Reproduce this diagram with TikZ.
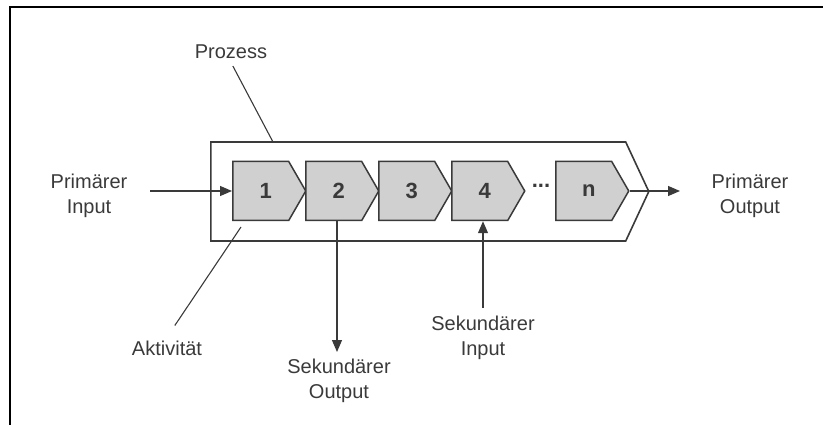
\documentclass[tikz,border=0pt]{standalone}
\usepackage{fontspec}
\setmainfont{Liberation Sans}
\usetikzlibrary{arrows.meta,shapes.symbols,calc}

\definecolor{ink}{HTML}{3A3A3A}
\definecolor{chevfill}{HTML}{D0D0D0}

\tikzset{
  schritt/.style={shape=signal, signal to=east, signal pointer angle=120,
    draw=ink, fill=chevfill, line width=1.5pt, minimum width=73pt,
    minimum height=59pt, inner sep=0pt, text=ink, anchor=west,
    font=\fontsize{22}{26}\selectfont\bfseries},
  lbl/.style={text=ink, align=center, font=\fontsize{20}{25}\selectfont},
  pfeil/.style={ink, line width=1.3pt, -{Triangle[length=12pt,width=10pt]}},
  zeiger/.style={ink, line width=1.1pt},
}

\begin{document}
\begin{tikzpicture}[x=1pt, y=-1pt]
  \useasboundingbox (0,0) rectangle (823,425);
  % Rahmen
  \draw[line width=2.5pt] (10,425) -- (10,7) -- (823,7);

  % Prozess
  \node[shape=signal, signal to=east, signal pointer angle=130, draw=ink,
        line width=1.6pt, minimum width=438pt, minimum height=99pt,
        anchor=west] (proz) at (210,191.5) {};

  % Aktivitaeten
  \foreach \i/\x in {1/232, 2/305, 3/378, 4/451}
    \node[schritt] (c\i) at (\x,191) {\hspace*{10pt}\i};
  \node[schritt] (cn) at (555,191) {\hspace*{10pt}n};
  \node[text=ink, font=\fontsize{22}{26}\selectfont\bfseries] (dots) at (541,186) {...};

  % Beschriftungen
  \node[lbl] (prozlbl) at (231,52)  {Prozess};
  \node[lbl] (primin)  at (89,196)  {Primärer\\Input};
  \node[lbl] (primout) at (750,196) {Primärer\\Output};
  \node[lbl] (aktlbl)  at (167,348) {Aktivität};
  \node[lbl] (sekout)  at (339,381) {Sekundärer\\Output};
  \node[lbl] (sekin)   at (483,338) {Sekundärer\\Input};

  \coordinate (pz) at (273,142);
  \coordinate (ak) at (241,227);
  \coordinate (pi) at (150,191);
  \coordinate (po) at (680,191);
  \coordinate (so) at (337,352);
  \coordinate (si) at (483,308);

  % Pfeile
  \draw[pfeil] (pi) -- (c1.west);
  \draw[pfeil] (cn.east) -- (po);
  \draw[pfeil] (c2.south -| so) -- (so);
  \draw[pfeil] (si) -- (si |- c4.south);

  % Zeiger
  \draw[zeiger, shorten <=4pt] (prozlbl.south) -- (pz);
  \draw[zeiger, shorten <=14pt] (aktlbl.north) -- (ak);
\end{tikzpicture}
\end{document}
